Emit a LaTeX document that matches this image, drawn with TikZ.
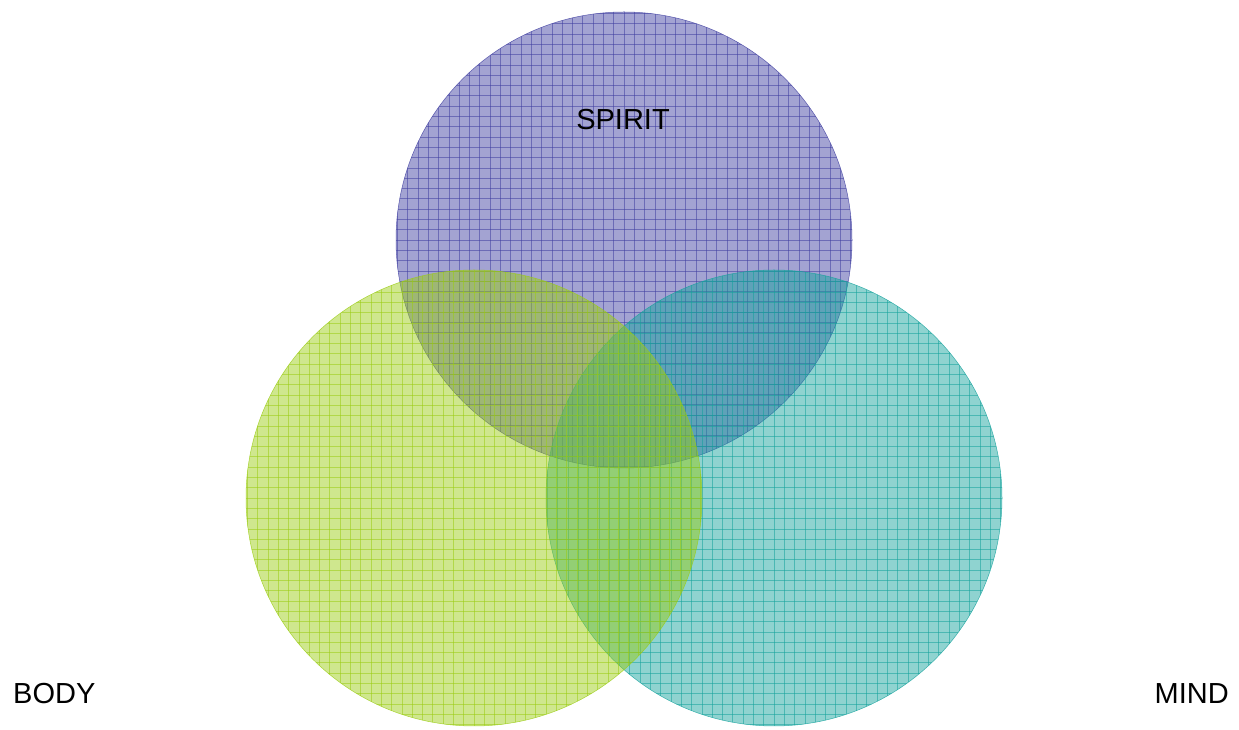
\documentclass[tikz,border=0pt]{standalone}
\usepackage{fontspec}
\setmainfont{Liberation Sans}
\usetikzlibrary{positioning}
\definecolor{vnspirit}{HTML}{3F3EA0}
\definecolor{vnbody}{HTML}{9ACC12}
\definecolor{vnmind}{HTML}{14A29C}

\begin{document}
\begin{tikzpicture}[x=1pt, y=1pt, font=\fontsize{29}{33}\selectfont,
    venn/.style={circle, minimum size=456pt, inner sep=0pt, fill=#1, fill opacity=.48,
      draw=#1, draw opacity=.8, line width=.5pt,
      path picture={
        \foreach \k in {-23,...,23} {
          \draw[#1, draw opacity=.55, line width=.7pt] (\k*10.3,-235) -- (\k*10.3,235);
          \draw[#1, draw opacity=.55, line width=.7pt] (-235,\k*10.3) -- (235,\k*10.3);
        }
      }},
    tag/.style={text=black, inner sep=0pt}]
  \useasboundingbox (0,0) rectangle (1239,730);
  % circles, back to front
  \node[venn=vnspirit] (spirit) at (624,490) {};
  \node[venn=vnmind] (mind) at (774,232) {};
  \node[venn=vnbody] (body) at (474,232) {};
  % labels
  \node[tag] (spiritlbl) at (623,610) {SPIRIT};
  \node[tag, anchor=west] (bodylbl) at (13,36) {BODY};
  \node[tag, anchor=east] (mindlbl) at (1229,36) {MIND};
\end{tikzpicture}
\end{document}
